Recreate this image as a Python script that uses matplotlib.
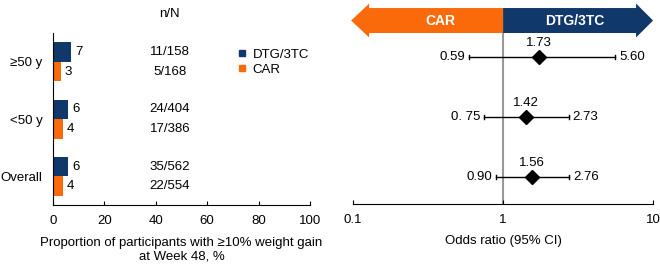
import numpy as np
import matplotlib.pyplot as plt
from matplotlib.patches import Polygon
from matplotlib.lines import Line2D

plt.rcParams['font.family'] = ['Liberation Sans', 'DejaVu Sans']
plt.rcParams['font.size'] = 9.5

# Data
groups = ['≥50 y', '<50 y', 'Overall']
dtg_pct = [7, 6, 6]
car_pct = [3, 4, 4]
dtg_nN = ['11/158', '24/404', '35/562']
car_nN = ['5/168', '17/386', '22/554']

or_est = [1.73, 1.42, 1.56]
or_lo = [0.59, 0.75, 0.90]
or_hi = [5.60, 2.73, 2.76]
or_lo_lbl = ['0.59', '0. 75', '0.90']
or_hi_lbl = ['5.60', '2.73', '2.76']

navy = '#10386a'
orange = '#fa6a0a'

fig = plt.figure(figsize=(6.6, 2.67), dpi=100)

# ---- left panel: bars
ax = fig.add_axes([0.0803, 0.232, 0.3894, 0.644])
ypos = np.arange(len(groups))
h = 0.34
ax.barh(ypos - h / 2, dtg_pct, height=h, color=navy)
ax.barh(ypos + h / 2, car_pct, height=h, color=orange)
for i in range(len(groups)):
    ax.text(dtg_pct[i] + 1.5, ypos[i] - h / 2, str(dtg_pct[i]), va='center', ha='left')
    ax.text(car_pct[i] + 1.5, ypos[i] + h / 2, str(car_pct[i]), va='center', ha='left')
    ax.text(45.5, ypos[i] - h / 2, dtg_nN[i], va='center', ha='center')
    ax.text(45.5, ypos[i] + h / 2, car_nN[i], va='center', ha='center')
ax.text(45.5, -0.83, 'n/N', va='center', ha='center', clip_on=False)

ax.set_xlim(0, 100)
ax.set_ylim(2.5, -0.5)
ax.set_yticks(ypos)
ax.set_yticklabels(groups)
ax.tick_params(axis='y', length=0, pad=7.5)
ax.set_xticks(np.arange(0, 101, 20))
ax.tick_params(axis='x', direction='in', length=3, pad=7)
for s in ['top', 'right']:
    ax.spines[s].set_visible(False)
ax.set_xlabel('Proportion of participants with ≥10% weight gain\nat Week 48, %', labelpad=7)

handles = [Line2D([], [], marker='s', linestyle='', color=navy, markersize=5),
           Line2D([], [], marker='s', linestyle='', color=orange, markersize=5)]
ax.legend(handles, ['DTG/3TC', 'CAR'], loc='upper left', bbox_to_anchor=(0.70, 0.94),
          frameon=False, handlelength=0.6, handletextpad=0.5, labelspacing=0.2,
          borderaxespad=0)

# ---- right panel: forest plot
ax2 = fig.add_axes([0.535, 0.236, 0.4545, 0.764])
ax2.set_xscale('log')
ax2.set_xlim(0.1, 10)
ax2.set_ylim(2.45, -0.95)
rows = np.arange(len(or_est))

ax2.plot([1, 1], [-0.40, 2.45], color='#999999', lw=1.5, zorder=1)

for i in range(len(or_est)):
    ax2.plot([or_lo[i], or_hi[i]], [rows[i], rows[i]], color='black', lw=1, zorder=2)
    for xv in (or_lo[i], or_hi[i]):
        ax2.plot([xv, xv], [rows[i] - 0.04, rows[i] + 0.04], color='black', lw=1, zorder=2)
    ax2.plot(or_est[i], rows[i], marker='D', color='black', markersize=7, zorder=3)
    ax2.text(or_est[i], rows[i] - 0.24, f'{or_est[i]:.2f}', ha='center', va='center')
    ax2.text(or_lo[i] / 1.06, rows[i], or_lo_lbl[i], ha='right', va='center')
    ax2.text(or_hi[i] * 1.06, rows[i], or_hi_lbl[i], ha='left', va='center')

# direction arrows
yc, bh, hh = -0.608, 0.208, 0.283
left_arrow = [(1, yc - bh), (0.128, yc - bh), (0.128, yc - hh), (0.097, yc),
              (0.128, yc + hh), (0.128, yc + bh), (1, yc + bh)]
right_arrow = [(1, yc - bh), (7.7, yc - bh), (7.7, yc - hh), (10, yc),
               (7.7, yc + hh), (7.7, yc + bh), (1, yc + bh)]
ax2.add_patch(Polygon(left_arrow, closed=True, color=orange, lw=0, clip_on=False))
ax2.add_patch(Polygon(right_arrow, closed=True, color=navy, lw=0, clip_on=False))
ax2.text(0.38, yc, 'CAR', color='white', fontweight='bold', ha='center', va='center', fontsize=10)
ax2.text(3.0, yc, 'DTG/3TC', color='white', fontweight='bold', ha='center', va='center', fontsize=10)

ax2.set_xticks([0.1, 1, 10])
ax2.set_xticklabels(['0.1', '1', '10'])
ax2.minorticks_off()
ax2.tick_params(axis='x', direction='in', length=3, pad=7)
ax2.set_yticks([])
for s in ['top', 'right', 'left']:
    ax2.spines[s].set_visible(False)
ax2.set_xlabel('Odds ratio (95% CI)', labelpad=7)

fig.savefig('out.png', dpi=100)
